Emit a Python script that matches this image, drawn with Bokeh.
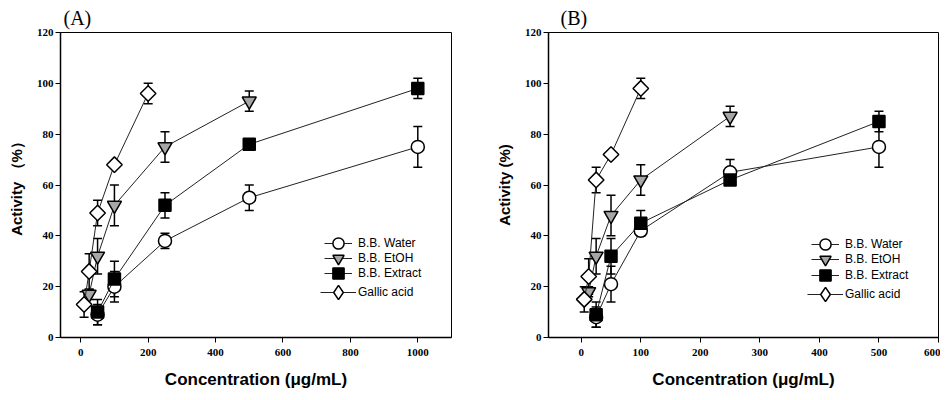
import numpy as np
from bokeh.plotting import figure
from bokeh.layouts import row
from bokeh.models import (Whisker, ColumnDataSource, Legend, LegendItem,
                          FixedTicker, Range1d, TeeHead, Title)
from bokeh.embed import file_html
from bokeh.resources import INLINE

series_names = ["B.B. Water", "B.B. EtOH", "B.B. Extract", "Gallic acid"]

# Panel A
a_water_x = [50, 100, 250, 500, 1000]
a_water_y = [9, 20, 38, 55, 75]
a_water_err = [4, 6, 3, 5, 8]
a_etoh_x = [25, 50, 100, 250, 500]
a_etoh_y = [17, 32, 52, 75, 93]
a_etoh_err = [2, 7, 8, 6, 4]
a_ext_x = [50, 100, 250, 500, 1000]
a_ext_y = [10, 23, 52, 76, 98]
a_ext_err = [5, 7, 5, 1, 4]
a_gal_x = [10, 25, 50, 100, 200]
a_gal_y = [13, 26, 49, 68, 96]
a_gal_err = [5, 7, 5, 1, 4]
a_xticks = [0, 200, 400, 600, 800, 1000]

# Panel B
b_water_x = [25, 50, 100, 250, 500]
b_water_y = [8, 21, 42, 65, 75]
b_water_err = [4, 7, 2, 5, 8]
b_etoh_x = [12.5, 25, 50, 100, 250]
b_etoh_y = [18, 32, 48, 62, 87]
b_etoh_err = [2, 7, 8, 6, 4]
b_ext_x = [25, 50, 100, 250, 500]
b_ext_y = [9, 32, 45, 62, 85]
b_ext_err = [5, 7, 5, 1, 4]
b_gal_x = [5, 12.5, 25, 50, 100]
b_gal_y = [15, 24, 62, 72, 98]
b_gal_err = [5, 7, 5, 1, 4]
b_xticks = [0, 100, 200, 300, 400, 500, 600]

y_ticks = [0, 20, 40, 60, 80, 100, 120]

styles = [
    dict(marker="circle", size=13, fill_color="white", angle=0.0, legend_marker="circle", gbox=28),
    dict(marker="inverted_triangle", size=14, fill_color="#a6a6a6", angle=0.0, legend_marker="inverted_triangle", gbox=28),
    dict(marker="square", size=12, fill_color="black", angle=0.0, legend_marker="square", gbox=28),
    dict(marker="square", size=11, fill_color="white", angle=np.pi / 4, legend_marker="diamond", gbox=36),
]


def make_panel(title, title_off, series, x_start, x_end, xticks, ylabel, b_left, b_right,
               frame_w, legend_x, legend_cy):
    frame_h = 305
    p = figure(frame_width=frame_w, frame_height=frame_h,
               x_range=Range1d(x_start, x_end), y_range=Range1d(0, 120),
               output_backend="svg", toolbar_location=None,
               min_border_left=b_left, min_border_right=b_right,
               min_border_top=32, min_border_bottom=58)
    p.grid.visible = False
    p.outline_line_color = "black"
    p.outline_line_width = 1
    p.background_fill_color = "white"
    p.border_fill_color = "white"

    p.add_layout(Title(text=title, align="left", offset=title_off, standoff=8,
                       text_font="Liberation Serif", text_font_size="20px",
                       text_font_style="normal", text_color="black"), "above")

    p.xaxis.ticker = FixedTicker(ticks=xticks)
    p.yaxis.ticker = FixedTicker(ticks=y_ticks)
    for ax in (p.xaxis[0], p.yaxis[0]):
        ax.axis_line_color = "black"
        ax.axis_line_width = 1.5
        ax.major_tick_line_color = "black"
        ax.major_tick_line_width = 1
        ax.major_tick_out = 5
        ax.major_tick_in = 0
        ax.minor_tick_line_color = None
        ax.major_label_text_font = "Liberation Serif"
        ax.major_label_text_font_style = "bold"
        ax.major_label_text_font_size = "11px"
        ax.major_label_text_color = "black"
        ax.axis_label_text_font = "Liberation Sans"
        ax.axis_label_text_font_style = "bold"
        ax.axis_label_text_color = "black"
    p.xaxis.major_label_standoff = 6
    p.yaxis.major_label_standoff = 2
    p.xaxis.axis_label = "Concentration (μg/mL)"
    p.xaxis.axis_label_text_font_size = "17px"
    p.xaxis.axis_label_standoff = 11
    p.yaxis.axis_label = ylabel
    p.yaxis.axis_label_text_font_size = "15px"
    p.yaxis.axis_label_standoff = 9

    for name, (x, y, err), st, cy in zip(series_names, series, styles, legend_cy):
        y = np.array(y, dtype=float)
        err = np.array(err, dtype=float)
        src = ColumnDataSource(dict(x=x, y=y, upper=y + err, lower=y - err))
        p.add_layout(Whisker(base="x", upper="upper", lower="lower", source=src,
                             line_color="black", line_width=1.5,
                             upper_head=TeeHead(size=9, line_width=1.5, line_color="black"),
                             lower_head=TeeHead(size=9, line_width=1.5, line_color="black")))
        lr = p.line("x", "y", source=src, line_color="#222222", line_width=1)
        sr = p.scatter("x", "y", source=src, marker=st["marker"], size=st["size"],
                       fill_color=st["fill_color"], line_color="black",
                       line_width=1.5, angle=st["angle"])
        legend_renderers = [lr, sr]
        if st["legend_marker"] != st["marker"]:
            # legend-only glyph (legend swatches are never rotated); no visible points
            dummy = ColumnDataSource(dict(x=[np.nan], y=[np.nan]))
            legend_renderers = [lr, p.scatter("x", "y", source=dummy,
                                              marker=st["legend_marker"],
                                              size=st["size"], fill_color=st["fill_color"],
                                              line_color="black", line_width=1.5)]
        g = st["gbox"]
        extra = (g - 28) // 2
        legend = Legend(items=[LegendItem(label=name, renderers=legend_renderers)],
                        location=(legend_x - extra, cy - g // 2), glyph_width=g,
                        glyph_height=g, spacing=0, padding=0, margin=0,
                        label_standoff=6 - extra, label_height=16,
                        border_line_color=None, background_fill_alpha=0,
                        label_text_font="Liberation Sans", label_text_font_size="12px",
                        label_text_color="black")
        p.add_layout(legend)
    return p


# legend_cy: legend row centres measured upward from the bottom of the frame
pa = make_panel("(A)", 3,
                [(a_water_x, a_water_y, a_water_err), (a_etoh_x, a_etoh_y, a_etoh_err),
                 (a_ext_x, a_ext_y, a_ext_err), (a_gal_x, a_gal_y, a_gal_err)],
                -60, 1100, a_xticks, "Activity （%）", 60, 27, 391,
                264, [94, 79, 64, 45])
pb = make_panel("(B)", 12,
                [(b_water_x, b_water_y, b_water_err), (b_etoh_x, b_etoh_y, b_etoh_err),
                 (b_ext_x, b_ext_y, b_ext_err), (b_gal_x, b_gal_y, b_gal_err)],
                -55, 600, b_xticks, "Activity (%)", 70, 2, 390,
                263, [93, 78, 62, 43])

layout = row(pa, pb)
open("out.html", "w").write(file_html(layout, INLINE))
